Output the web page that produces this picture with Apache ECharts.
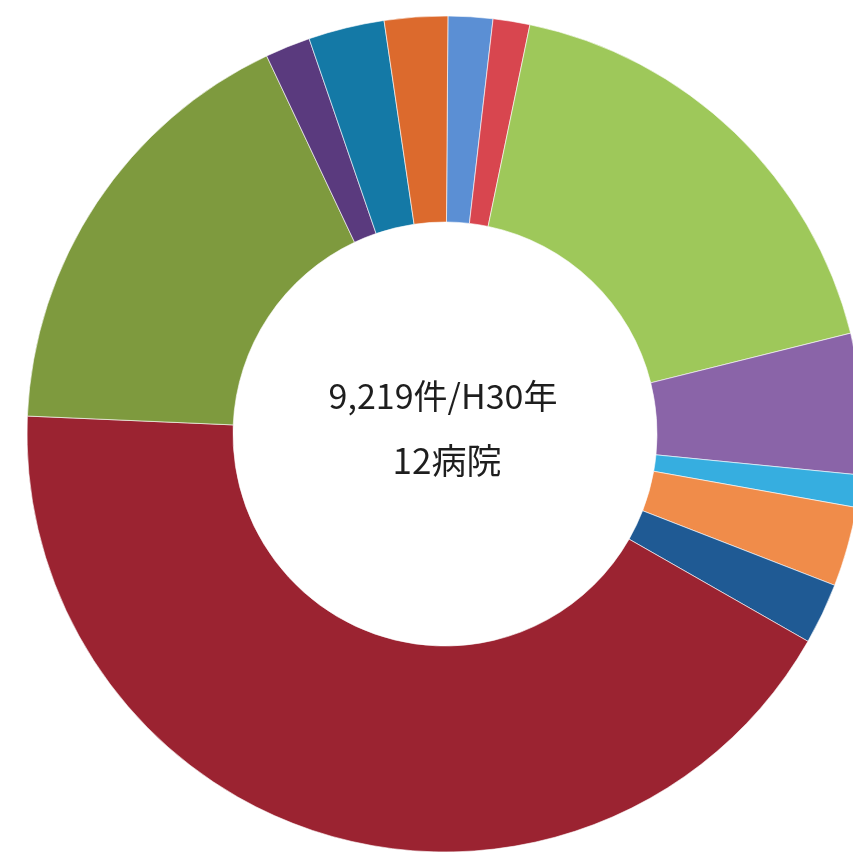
<!DOCTYPE html>
<html>
<head>
<meta charset="utf-8">
<script src="https://cdn.jsdelivr.net/npm/echarts@6/dist/echarts.min.js"></script>
<style>html,body{margin:0;padding:0;background:#fff;}#c{width:853px;height:853px;}</style>
</head>
<body>
<div id="c"></div>
<script>
const categories = ['A','B','C','D','E','F','G','H','I','J','K','L'];
const values = [159, 131, 1647, 502, 115, 284, 218, 3911, 1595, 161, 271, 225];
const colors = ['#5b8fd4','#d8464f','#9ec85a','#8a64a8','#36aee0','#f08c4a','#1f5a94','#9b2331','#7e9a3e','#5a3a7e','#1479a6','#dc6a2d'];
const centerLines = ['9,219件/H30年', '12病院'];

const chart = echarts.init(document.getElementById('c'));
chart.setOption({
  animation: false,
  backgroundColor: '#ffffff',
  graphic: [
    { type: 'text', x: 443, y: 396, style: { text: centerLines[0], fill: '#1e1e1e', font: '34px "Noto Sans CJK JP"', textAlign: 'center', textVerticalAlign: 'middle' } },
    { type: 'text', x: 447, y: 461, style: { text: centerLines[1], fill: '#1e1e1e', font: '35px "Noto Sans CJK JP"', textAlign: 'center', textVerticalAlign: 'middle' } }
  ],
  series: [{
    type: 'pie',
    center: [445, 434],
    radius: [212, 418],
    startAngle: 89.6,
    clockwise: true,
    label: { show: false },
    labelLine: { show: false },
    itemStyle: { borderColor: 'rgba(255,255,255,0.6)', borderWidth: 1 },
    data: categories.map((c, i) => ({ name: c, value: values[i], itemStyle: { color: colors[i] } }))
  }]
});
</script>
</body>
</html>
